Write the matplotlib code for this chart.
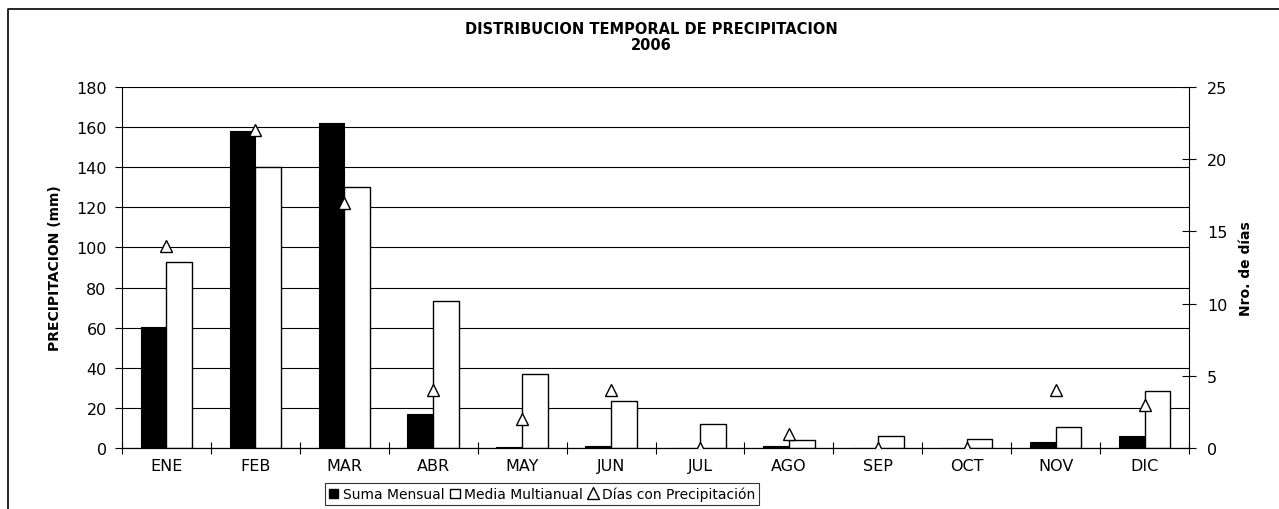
import matplotlib
matplotlib.use("Agg")
import matplotlib.pyplot as plt
import numpy as np
from matplotlib.lines import Line2D
from matplotlib.patches import Patch

meses = ["ENE", "FEB", "MAR", "ABR", "MAY", "JUN", "JUL", "AGO", "SEP", "OCT", "NOV", "DIC"]
suma_mensual = [60.5, 158, 162, 17, 0.5, 1, 0, 1, 0, 0, 3, 6]
media_multianual = [92.5, 140, 130, 73.5, 37, 23.5, 12, 4, 6, 4.5, 10.5, 28.5]
dias_precip = [14, 22, 17, 4, 2, 4, 0, 1, 0, 0, 4, 3]

plt.rcParams['font.family'] = ['DejaVu Sans']

fig = plt.figure(figsize=(12.79, 5.10), dpi=100)
ax = fig.add_axes([122/1279, 1-449/510, (1189-122)/1279, (449-88)/510])

x = np.arange(len(meses))
w = 0.29
ax.bar(x - w/2, suma_mensual, width=w, color='black', edgecolor='black', linewidth=0.8, zorder=3)
ax.bar(x + w/2, media_multianual, width=w, color='white', edgecolor='black', linewidth=1.0, zorder=3)

ax.set_xlim(-0.5, 11.5)
ax.set_ylim(0, 180)
ax.set_yticks(np.arange(0, 181, 20))
ax.set_xticks(x)
ax.set_xticklabels(meses, fontsize=11.5)
ax.set_xticks(np.arange(-0.5, 12, 1), minor=True)
ax.tick_params(axis='x', which='major', length=0, pad=7)
ax.tick_params(axis='x', which='minor', length=8, direction='inout', width=0.8)
ax.tick_params(axis='y', length=5, direction='out', width=0.8, labelsize=11.5, pad=6)
ax.yaxis.grid(True, color='black', linewidth=0.8, zorder=0)
ax.set_axisbelow(True)
ax.spines['top'].set_visible(False)
ax.spines['right'].set_visible(False)
ax.set_ylabel("PRECIPITACION (mm)", fontsize=10, fontweight='bold', labelpad=10)

ax2 = ax.twinx()
ax2.set_ylim(0, 25)
ax2.set_yticks(np.arange(0, 26, 5))
ax2.plot(x, dias_precip, linestyle='none', marker='^', markersize=9,
         markerfacecolor='white', markeredgecolor='black', markeredgewidth=1.0, zorder=5)
ax2.tick_params(axis='y', length=10, direction='inout', width=0.8, labelsize=11.5, pad=8)
ax2.spines['top'].set_visible(False)
ax2.spines['left'].set_visible(False)
ax2.set_ylabel("Nro. de días", fontsize=10, fontweight='bold', labelpad=8)

fig.text(651/1279, 1-30/510, "DISTRIBUCION TEMPORAL DE PRECIPITACION", ha='center', va='center',
         fontsize=10.5, fontweight='bold')
fig.text(651/1279, 1-45/510, "2006", ha='center', va='center', fontsize=10.5, fontweight='bold')

handles = [Patch(facecolor='black', edgecolor='black'),
           Patch(facecolor='white', edgecolor='black'),
           Line2D([], [], linestyle='none', marker='^', markersize=8,
                  markerfacecolor='white', markeredgecolor='black')]
labels = ["Suma Mensual", "Media Multianual", "Días con Precipitación"]
leg = fig.legend(handles, labels, loc='center', bbox_to_anchor=(542/1279, 1-495/510), ncol=3,
                 fontsize=10, frameon=True, fancybox=False, edgecolor='black',
                 handlelength=0.7, handleheight=0.7, handletextpad=0.3, columnspacing=0.4,
                 borderpad=0.3)
leg.get_frame().set_linewidth(0.8)

# outer chart frame
fig.add_artist(Line2D([8/1279, 8/1279, 1.0], [0.0, 1-10/510, 1-10/510],
                      color='black', linewidth=1.2, transform=fig.transFigure))

fig.savefig("out.png", dpi=100)
